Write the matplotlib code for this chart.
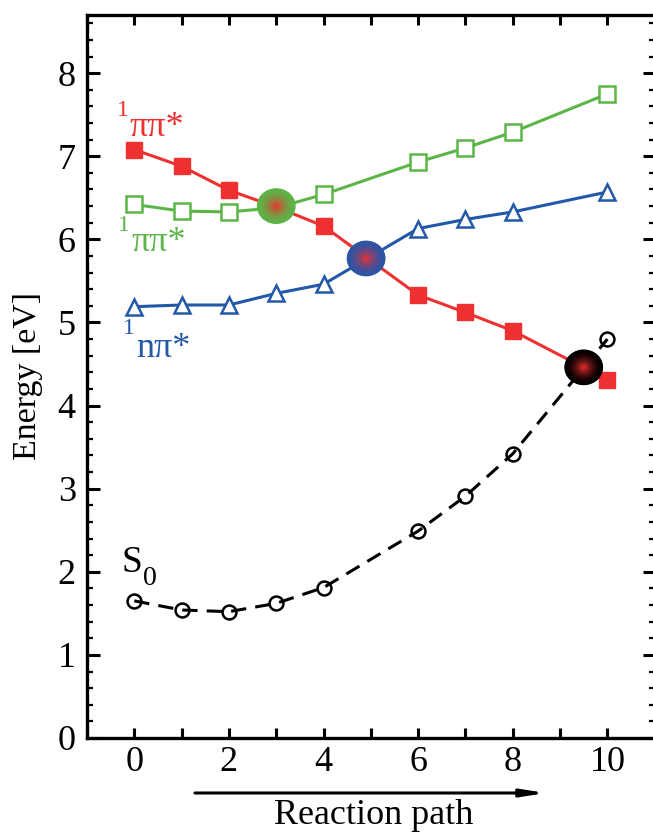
import numpy as np
import matplotlib
matplotlib.use('Agg')
import matplotlib.pyplot as plt
from matplotlib.patches import Ellipse
from matplotlib.ticker import MultipleLocator, FuncFormatter
from matplotlib.colors import to_rgb

plt.rcParams['font.family'] = ['Liberation Serif', 'DejaVu Serif']

# data
x_red = [0, 1, 2, 3, 4, 6, 7, 8, 10]
e_red = [7.08, 6.88, 6.59, 6.39, 6.16, 5.33, 5.12, 4.90, 4.31]

x_green = [0, 1, 2, 3, 4, 6, 7, 8, 10]
e_green = [6.42, 6.34, 6.33, 6.38, 6.54, 6.93, 7.10, 7.29, 7.75]

x_blue = [0, 1, 2, 3, 4, 6, 7, 8, 10]
e_blue = [5.19, 5.21, 5.21, 5.35, 5.46, 6.13, 6.24, 6.33, 6.57]

x_s0 = [0, 1, 2, 3, 4, 6, 7, 8, 10]
e_s0 = [1.65, 1.54, 1.52, 1.62, 1.81, 2.49, 2.91, 3.42, 4.80]

# conical intersections (x, E, edge colour)
ci_x = [3.0, 4.9, 9.5]
ci_e = [6.40, 5.77, 4.46]
ci_edge = ['#5cb548', '#2d55a6', '#000000']

red = '#ee3030'
green = '#5cb548'
blue = '#2358a8'

fig = plt.figure(figsize=(6.53, 8.32), dpi=100)
ax = fig.add_axes([0.1332, 0.113, 0.8694, 0.869])

ax.plot(x_s0, e_s0, color='black', lw=2.2, dashes=(5, 3),
        marker='o', ms=10, mfc='none', mec='black', mew=1.8, zorder=3)
ax.plot(x_green, e_green, color=green, lw=2.2,
        marker='s', ms=11, mfc='white', mec=green, mew=1.8, zorder=3)
ax.plot(x_blue, e_blue, color=blue, lw=2.2,
        marker='^', ms=12, mfc='white', mec=blue, mew=1.8, zorder=3)
ax.plot(x_red, e_red, color=red, lw=2.2,
        marker='s', ms=11.5, mfc=red, mec=red, zorder=4)

# radial gradient blobs
w, h = 0.82, 0.43
for cx, ce, edge in zip(ci_x, ci_e, ci_edge):
    c0 = np.array(to_rgb(edge))
    c1 = np.array(to_rgb('#f03030'))
    n = 40
    for i in range(n):
        f = 1 - i / n
        t = (1 - f) ** 1.8
        col = c0 * (1 - t) + c1 * t
        ax.add_patch(Ellipse((cx, ce), w * f, h * f, facecolor=col,
                             edgecolor='none', zorder=5 + i * 0.001))

# state labels
ax.text(-0.36, 7.49, '1', color=red, fontsize=17)
ax.text(-0.11, 7.24, 'ππ*', color=red, fontsize=26)
ax.text(-0.34, 6.10, '1', color=green, fontsize=17)
ax.text(-0.07, 5.86, 'ππ*', color=green, fontsize=26)
ax.text(-0.24, 4.86, '1', color=blue, fontsize=17)
ax.text(0.04, 4.59, 'nπ*', color=blue, fontsize=26)
ax.text(-0.26, 2.0, 'S', color='black', fontsize=27)
ax.text(0.19, 1.84, '0', color='black', fontsize=20)

ax.set_xlim(-1, 11)
ax.set_ylim(0, 8.7)

ax.xaxis.set_major_locator(MultipleLocator(2))
ax.xaxis.set_minor_locator(MultipleLocator(1))
ax.yaxis.set_major_locator(MultipleLocator(1))
ax.yaxis.set_minor_locator(MultipleLocator(0.2))
ax.xaxis.set_major_formatter(FuncFormatter(lambda v, p: '%d' % v))

ax.tick_params(which='both', direction='in', top=True, right=True, width=2.2)
ax.tick_params(axis='x', which='both', length=7.5, labelsize=26, pad=6)
ax.tick_params(axis='y', which='major', length=9, labelsize=26, pad=8)
ax.tick_params(axis='y', which='minor', length=4.5, width=1.6)

for s in ax.spines.values():
    s.set_linewidth(2.4)

ax.set_ylabel('Energy [eV]', fontsize=24.5)
ax.yaxis.set_label_coords(-0.0775, 0.5)

fig.text(374 / 653, 1 - 815 / 832, 'Reaction path', fontsize=26,
         ha='center', va='center')
ax.annotate('', xy=(546 / 653, 1 - 793 / 832), xytext=(195 / 653, 1 - 793 / 832),
            xycoords='figure fraction', textcoords='figure fraction',
            arrowprops=dict(arrowstyle='-|>,head_length=1.4,head_width=0.22',
                            color='black', lw=2.2, shrinkA=0, shrinkB=0))

fig.savefig('out.png', dpi=100)
